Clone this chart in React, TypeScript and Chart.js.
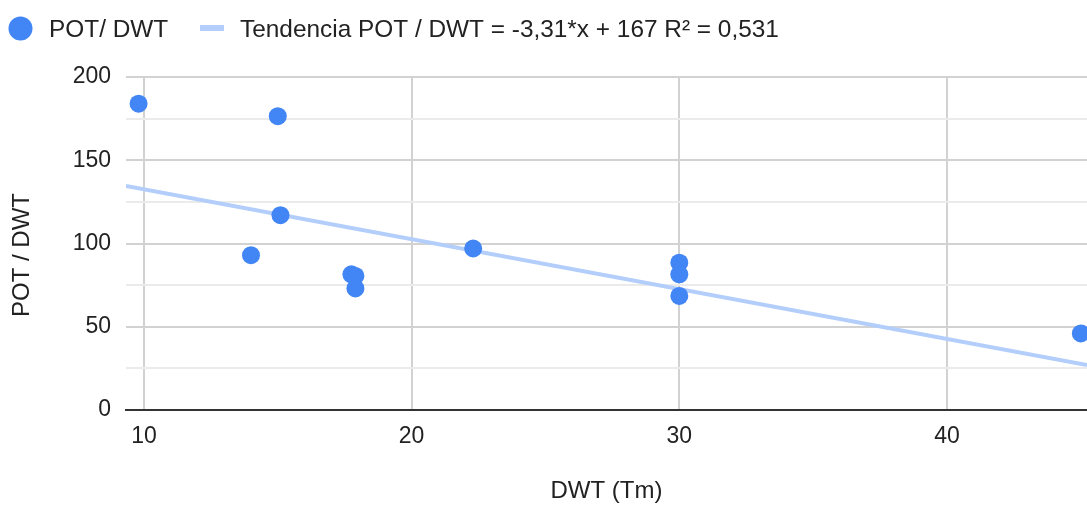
import React, { useEffect, useRef } from "react";
import { Chart, registerables } from "chart.js";

Chart.register(...registerables);

const SERIES_LABEL = "POT/ DWT";
const TREND_LABEL = "Tendencia POT / DWT = -3,31*x + 167 R² = 0,531";
const X_TITLE = "DWT (Tm)";
const Y_TITLE = "POT / DWT";

const DWT = [9.8, 15.0, 15.1, 14.0, 17.75, 17.9, 17.9, 22.3, 30, 30, 30, 45];
const POT_DWT = [184, 176.5, 117, 93, 81.5, 80.5, 73, 97, 88.5, 81.5, 68.5, 46];

const TREND_X = [9.33, 45.23];
const TREND_Y = [134.6, 27];

const X_TICKS = [10, 20, 30, 40];
const Y_TICKS = [0, 25, 50, 75, 100, 125, 150, 175, 200];

const POINT_COLOR = "#4285f4";
const TREND_COLOR = "#b3cefb";
const TEXT_COLOR = "#222222";
const FONT = "'Liberation Sans', Arial, sans-serif";

const legendPlugin = {
  id: "customLegend",
  afterDraw(chart: any) {
    const ctx = chart.ctx;
    const ds = chart.data.datasets;
    ctx.save();
    ctx.fillStyle = ds[0].backgroundColor;
    ctx.beginPath();
    ctx.arc(20.5, 28.5, 12, 0, Math.PI * 2);
    ctx.fill();
    ctx.font = `24.4px ${FONT}`;
    ctx.textBaseline = "alphabetic";
    ctx.textAlign = "left";
    ctx.fillStyle = TEXT_COLOR;
    ctx.fillText(ds[0].label, 49, 37);
    ctx.fillStyle = ds[1].borderColor;
    ctx.fillRect(200, 25, 24, 6);
    ctx.fillStyle = TEXT_COLOR;
    ctx.fillText(ds[1].label, 240, 37);
    ctx.font = `24px ${FONT}`;
    ctx.translate(22, 255);
    ctx.rotate(-Math.PI / 2);
    ctx.textAlign = "center";
    ctx.textBaseline = "middle";
    ctx.fillText(Y_TITLE, 0, 0);
    ctx.restore();
  },
};

export default function App() {
  const ref = useRef<HTMLCanvasElement | null>(null);
  useEffect(() => {
    if (!ref.current) return;
    const chart = new Chart(ref.current, {
      type: "scatter",
      data: {
        datasets: [
          {
            label: SERIES_LABEL,
            data: DWT.map((x, i) => ({ x, y: POT_DWT[i] })),
            backgroundColor: POINT_COLOR,
            borderColor: POINT_COLOR,
            pointRadius: 9,
            pointBorderWidth: 0,
            order: 1,
          },
          {
            label: TREND_LABEL,
            data: TREND_X.map((x, i) => ({ x, y: TREND_Y[i] })),
            showLine: true,
            borderColor: TREND_COLOR,
            backgroundColor: TREND_COLOR,
            borderWidth: 4,
            pointRadius: 0,
            order: 2,
          },
        ] as any,
      },
      options: {
        animation: false,
        responsive: false,
        maintainAspectRatio: false,
        layout: { autoPadding: false, padding: { top: 77, left: 0, right: 0, bottom: 0 } },
        plugins: {
          legend: { display: false },
          tooltip: { enabled: false },
        },
        scales: {
          x: {
            type: "linear",
            min: 9.33,
            max: 45.23,
            afterBuildTicks: (s: any) => {
              s.ticks = X_TICKS.map((v) => ({ value: v }));
            },
            afterFit: (s: any) => {
              s.height = 104;
            },
            grid: {
              color: "#d2d2d2",
              lineWidth: 2,
              drawTicks: false,
            },
            border: { display: true, color: "#333333", width: 2 },
            ticks: {
              padding: 13,
              color: TEXT_COLOR,
              font: { family: FONT, size: 23 },
              maxRotation: 0,
              autoSkip: false,
            },
            title: {
              display: true,
              text: X_TITLE,
              color: TEXT_COLOR,
              font: { family: FONT, size: 24 },
              padding: { top: 0, bottom: 8 },
            },
          },
          y: {
            type: "linear",
            min: 0,
            max: 200,
            afterBuildTicks: (s: any) => {
              s.ticks = Y_TICKS.map((v) => ({ value: v }));
            },
            afterFit: (s: any) => {
              s.width = 126;
            },
            grid: {
              color: (c: any) => (c.tick && c.tick.value % 50 === 0 ? "#d2d2d2" : "#ebebeb"),
              lineWidth: 2,
              drawTicks: false,
            },
            border: { display: false },
            ticks: {
              padding: 15,
              color: TEXT_COLOR,
              font: { family: FONT, size: 23 },
              autoSkip: false,
              callback: (v: any) => (Number(v) % 50 === 0 ? String(v) : ""),
            },
          },
        },
      } as any,
      plugins: [legendPlugin],
    });
    return () => chart.destroy();
  }, []);
  return (
    <div style={{ position: "absolute", left: 0, top: 0, width: 1087, height: 514, background: "#fff" }}>
      <canvas ref={ref} width={1087} height={514} style={{ display: "block" }} />
    </div>
  );
}
